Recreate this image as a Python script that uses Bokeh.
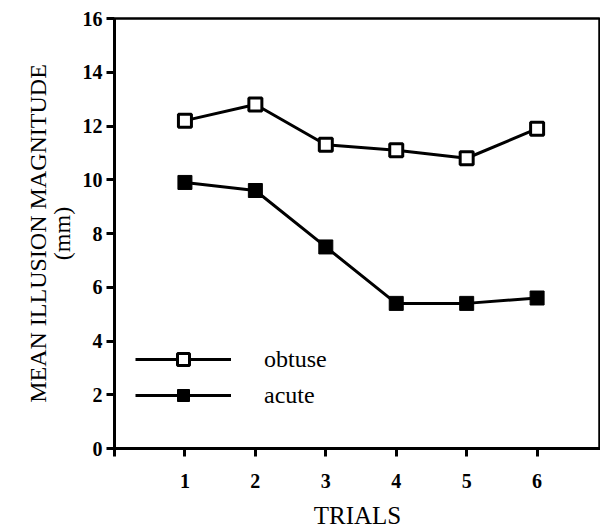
from bokeh.plotting import figure
from bokeh.models import Range1d, FixedTicker, Legend, LegendItem
from bokeh.embed import file_html
from bokeh.resources import INLINE

trials = [1, 2, 3, 4, 5, 6]
obtuse = [12.2, 12.8, 11.3, 11.1, 10.8, 11.9]
acute = [9.9, 9.6, 7.5, 5.4, 5.4, 5.6]
x_ticks = [0, 1, 2, 3, 4, 5, 6, 7]
y_ticks = [0, 2, 4, 6, 8, 10, 12, 14, 16]

FONT = "Liberation Serif"

p = figure(width=600, height=531, output_backend="svg", toolbar_location=None,
           x_range=Range1d(0, 6.9), y_range=Range1d(0, 16),
           min_border_left=114, min_border_right=0, min_border_top=18, min_border_bottom=78)
p.grid.visible = False
p.outline_line_color = "black"
p.outline_line_width = 2.5
p.background_fill_color = "white"
p.border_fill_color = "white"

for ax in (p.xaxis[0], p.yaxis[0]):
    ax.axis_line_width = 3
    ax.axis_line_color = "black"
    ax.major_tick_line_width = 3
    ax.major_tick_line_color = "black"
    ax.major_tick_out = 8
    ax.major_tick_in = 0
    ax.minor_tick_out = 0
    ax.minor_tick_in = 0
    ax.major_label_text_font = FONT
    ax.major_label_text_font_size = "20px"
    ax.major_label_text_font_style = "bold"
    ax.major_label_text_color = "black"
    ax.axis_label_text_font = FONT
    ax.axis_label_text_font_style = "normal"
    ax.axis_label_text_color = "black"

p.xaxis.ticker = FixedTicker(ticks=x_ticks)
p.xaxis.major_label_overrides = {0: "", 7: ""}
p.xaxis.axis_label = "TRIALS"
p.xaxis.axis_label_text_font_size = "25px"
p.xaxis.axis_label_text_line_height = 1.0
p.xaxis.major_label_text_line_height = 1.0
p.xaxis.major_label_standoff = 17
p.xaxis.axis_label_standoff = 11

p.yaxis.ticker = FixedTicker(ticks=y_ticks)
p.yaxis.axis_label = "MEAN ILLUSION MAGNITUDE\n(mm)"
p.yaxis.axis_label_text_font_size = "24px"
p.yaxis.axis_label_text_line_height = 0.92
p.yaxis.major_label_standoff = 4
p.yaxis.axis_label_standoff = 5

l1 = p.line(trials, obtuse, line_color="black", line_width=3)
m1 = p.scatter(trials, obtuse, marker="square", size=13, fill_color="white",
               line_color="black", line_width=3)
l2 = p.line(trials, acute, line_color="black", line_width=3)
m2 = p.scatter(trials, acute, marker="square", size=14, fill_color="black",
               line_color="black", line_width=1)

legend = Legend(items=[LegendItem(label="obtuse", renderers=[l1, m1]),
                       LegendItem(label="acute", renderers=[l2, m2])],
                location=(21, 38), glyph_width=96, glyph_height=30,
                label_standoff=33, padding=0, margin=0, spacing=6,
                border_line_color=None, background_fill_alpha=0,
                label_text_font=FONT, label_text_font_size="24px",
                label_text_color="black")
p.add_layout(legend)

open("out.html", "w").write(file_html(p, INLINE))
